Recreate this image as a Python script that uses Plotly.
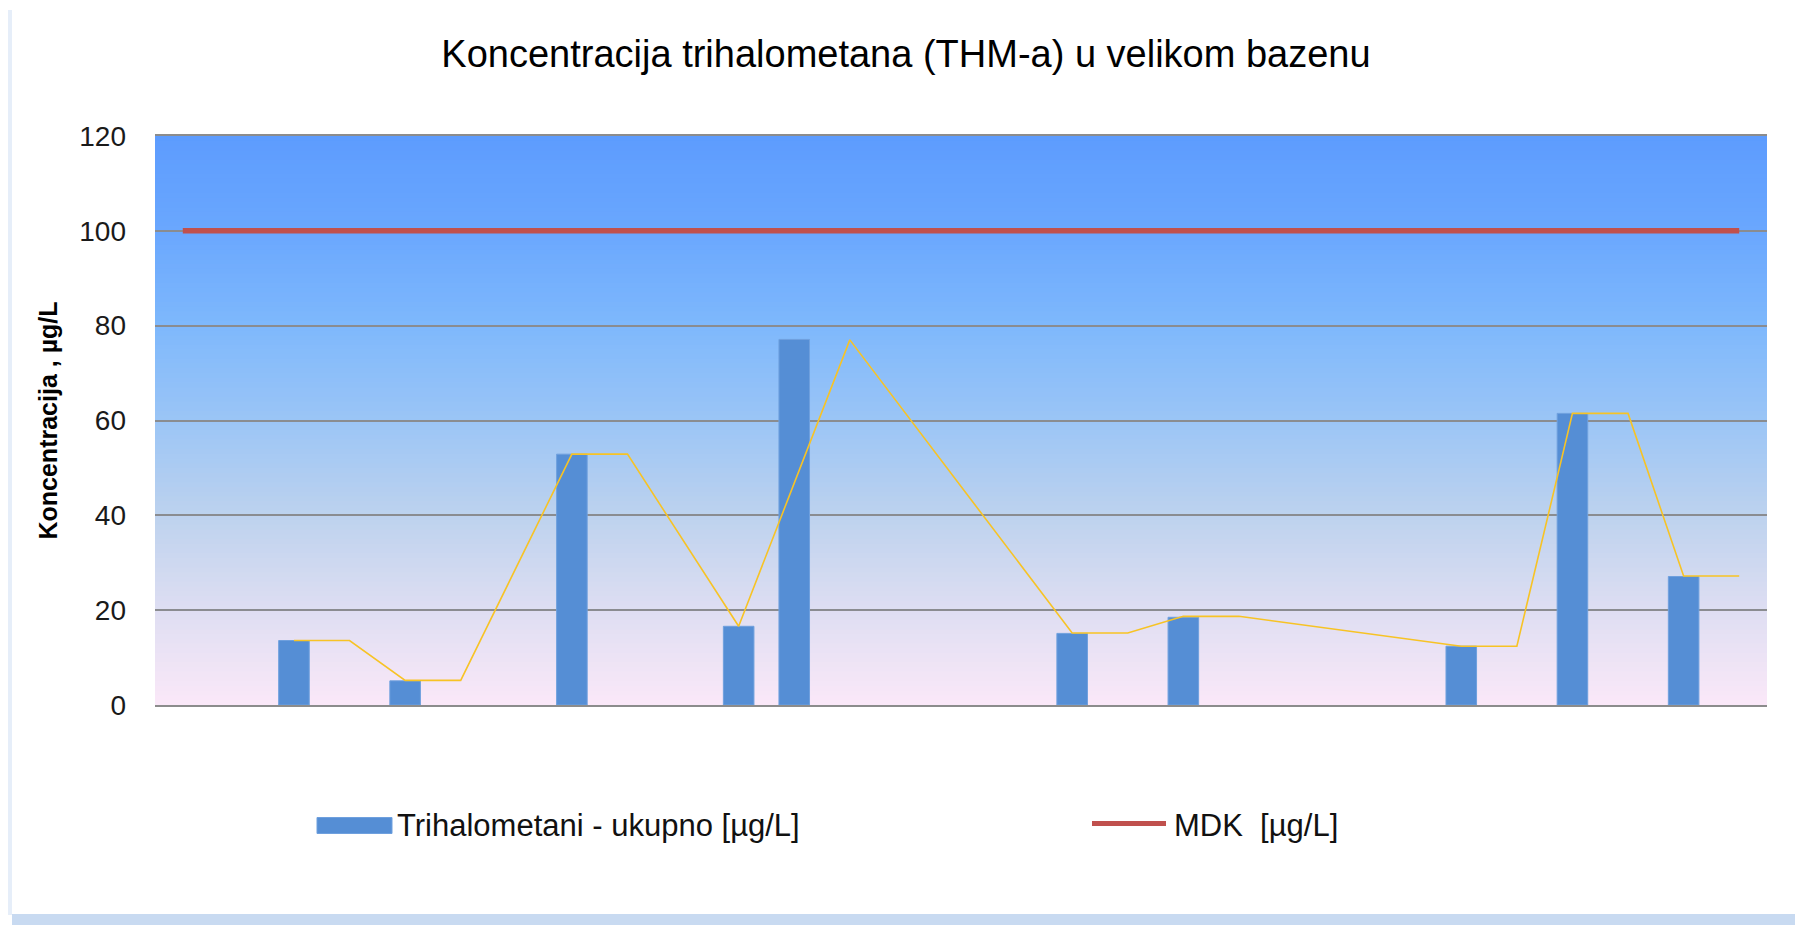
import plotly.graph_objects as go

# ---- data ----
categories = [1, 2, 3, 4, 5, 6, 7, 8, 9, 10, 11, 12, 13, 14, 15,
              16, 17, 18, 19, 20, 21, 22, 23, 24, 25, 26, 27, 28, 29]
thm_total = [None, None, 13.6, None, 5.1, None, None, 52.9, None, None,
             16.6, 77.1, None, None, None, None, 15.1, None, 18.5, None,
             None, None, None, 12.4, None, 61.5, None, 27.1, None]
mdk = [100, 100, 100, 100, 100, 100, 100, 100, 100, 100,
       100, 100, 100, 100, 100, 100, 100, 100, 100, 100,
       100, 100, 100, 100, 100, 100, 100, 100, 100]
thm_line = [None, None, 13.6, 13.6, 5.2, 5.2, None, 52.9, 52.9, None,
            16.6, None, 77.0, None, None, None, 15.2, 15.2, 18.7, 18.7,
            None, None, None, 12.4, 12.4, 61.5, 61.5, 27.2, 27.2]
y_ticks = [0, 20, 40, 60, 80, 100, 120]

title_text = "Koncentracija trihalometana (THM-a) u velikom bazenu"
y_title = "Koncentracija , µg/L"
name_thm = "Trihalometani - ukupno [µg/L]"
name_mdk = "MDK\u00a0 [µg/L]"

# ---- layout geometry (pixels; page body has an 8px margin) ----
OFF = 8
W, H = 1803 - OFF, 925 - OFF
L, R, T, B = 155 - OFF, 1767 - OFF, 136 - OFF, 705 - OFF
FONT = "Liberation Sans, Arial, sans-serif"


def px_x(px):
    return (px - OFF - L) / (R - L)


def px_y(py):
    return (B - (py - OFF)) / (B - T)


fig = go.Figure()

fig.add_trace(go.Bar(
    x=categories, y=thm_total, name=name_thm,
    marker=dict(color="#558ED5", line=dict(color="#6FA0DE", width=1)),
    showlegend=False,
))
fig.add_trace(go.Scatter(
    x=categories, y=thm_line, mode="lines", connectgaps=True,
    line=dict(color="#F7C325", width=1.6), showlegend=False, hoverinfo="skip",
))
fig.add_trace(go.Scatter(
    x=categories, y=mdk, mode="lines", name=name_mdk,
    line=dict(color="#C0504D", width=5.5), showlegend=False,
))

# gradient background of plot area
stops = [(0, (251, 232, 248)), (20, (222, 222, 242)), (40, (189, 210, 238)),
         (60, (155, 197, 246)), (80, (126, 184, 252)), (100, (106, 167, 254)),
         (120, (93, 156, 254))]


def grad(v):
    for (a, ca), (b, cb) in zip(stops[:-1], stops[1:]):
        if a <= v <= b:
            t = (v - a) / (b - a)
            return "rgb(%d,%d,%d)" % tuple(round(ca[i] + (cb[i] - ca[i]) * t) for i in range(3))
    return "rgb(%d,%d,%d)" % stops[-1][1]


shapes = []
for k in range(120):
    shapes.append(dict(type="rect", xref="paper", yref="y", x0=0, x1=1,
                       y0=k, y1=min(k + 1.4, 120), fillcolor=grad(k + 0.5),
                       line=dict(width=0), layer="below"))

# frame shadow (left strip and bottom band)
shapes.append(dict(type="rect", xref="paper", yref="paper",
                   x0=px_x(8), x1=px_x(12), y0=px_y(915), y1=px_y(10),
                   fillcolor="#E6EEF9", line=dict(width=0), layer="below"))
shapes.append(dict(type="rect", xref="paper", yref="paper",
                   x0=px_x(12), x1=px_x(1803), y0=px_y(925), y1=px_y(914),
                   fillcolor="#C8DAF1", line=dict(width=0), layer="below"))

# legend swatches
shapes.append(dict(type="rect", xref="paper", yref="paper",
                   x0=px_x(317), x1=px_x(392), y0=px_y(833.5), y1=px_y(817.5),
                   fillcolor="#558ED5", line=dict(color="#6FA0DE", width=1)))
shapes.append(dict(type="line", xref="paper", yref="paper",
                   x0=px_x(1092), x1=px_x(1166), y0=px_y(823.5), y1=px_y(823.5),
                   line=dict(color="#C0504D", width=5)))

annotations = [
    dict(text=name_thm, xref="paper", yref="paper", x=px_x(395), y=px_y(825),
         xanchor="left", yanchor="middle", showarrow=False,
         font=dict(family=FONT, size=31, color="#111")),
    dict(text=name_mdk, xref="paper", yref="paper", x=px_x(1172), y=px_y(825),
         xanchor="left", yanchor="middle", showarrow=False,
         font=dict(family=FONT, size=31, color="#111")),
]

fig.update_layout(
    width=W, height=H,
    margin=dict(l=L, r=W - R, t=T, b=H - B, pad=0),
    paper_bgcolor="white", plot_bgcolor="#B0CCF0",
    font=dict(family=FONT, color="#111"),
    title=dict(text=title_text, x=(906 - OFF) / W, xref="container", xanchor="center",
               y=1 - (54 - OFF) / H, yref="container", yanchor="middle",
               font=dict(family=FONT, size=38, color="#000")),
    bargap=0.45,
    showlegend=False,
    shapes=shapes,
    annotations=annotations,
    xaxis=dict(range=[0.5, 29.5], showticklabels=False, showgrid=False,
               zeroline=False, showline=True, mirror=True, linecolor="#8C8C8C",
               linewidth=2, ticks=""),
    yaxis=dict(range=[0, 120], tickvals=y_ticks, showgrid=True,
               gridcolor="#8A8C90", gridwidth=2, zeroline=False,
               showline=False, ticks="", ticklabelstandoff=28,
               tickfont=dict(family=FONT, size=28, color="#1a1a1a"),
               title=dict(text=y_title, standoff=14,
                          font=dict(family=FONT, size=25, color="#000", weight="bold"))),
)

fig.write_html("out.html")
